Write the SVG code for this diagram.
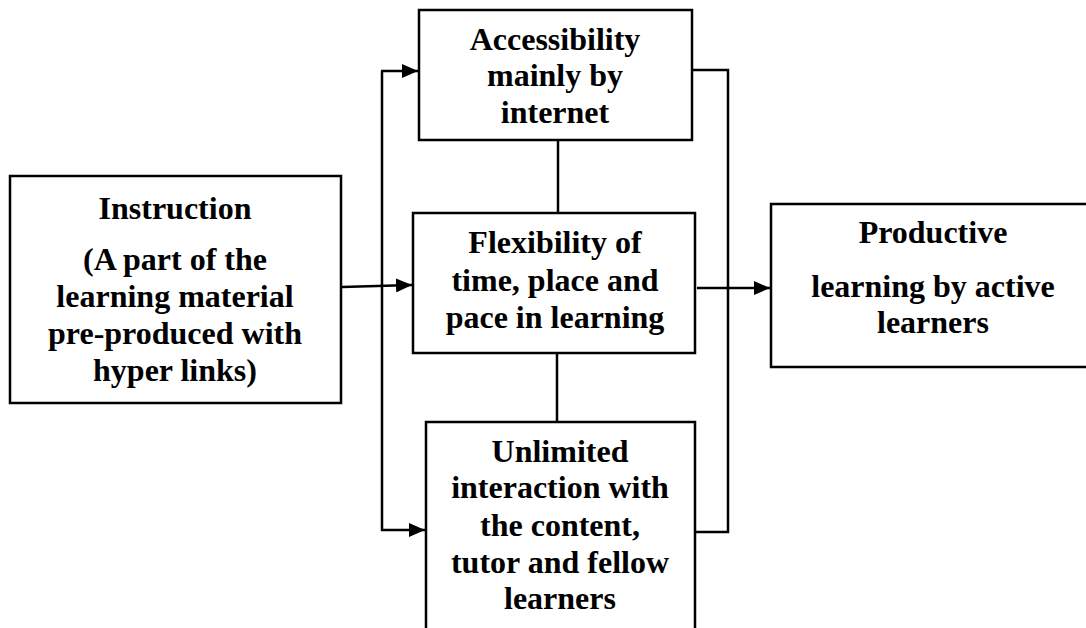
<svg xmlns="http://www.w3.org/2000/svg" width="1086" height="628" viewBox="0 0 1086 628">
  <style>
    .box { fill: #ffffff; stroke: #000000; stroke-width: 2.5; }
    .line { fill: none; stroke: #000000; stroke-width: 2.5; }
    .lbl { font-family: "Liberation Serif", "Times New Roman", serif; font-weight: bold; font-size: 32px; fill: #000000; text-anchor: middle; }
  </style>
  <defs>
    <marker id="arrow" viewBox="0 0 16 14" refX="16" refY="7" markerWidth="16" markerHeight="14" markerUnits="userSpaceOnUse" orient="auto">
      <path d="M0,0 L16,7 L0,14 Z" fill="#000000"/>
    </marker>
  </defs>
  <rect width="1086" height="628" fill="#ffffff"/>

  <g id="connectors">
    <!-- instruction to flexibility -->
    <line class="line" x1="342" y1="287" x2="412" y2="285" marker-end="url(#arrow)"/>
    <!-- left bus feeding top and bottom boxes -->
    <polyline class="line" points="382,71 382,530 425,530" marker-end="url(#arrow)"/>
    <line class="line" x1="381" y1="71" x2="418" y2="71" marker-end="url(#arrow)"/>
    <!-- centre links -->
    <line class="line" x1="558" y1="140" x2="558" y2="213"/>
    <line class="line" x1="557" y1="353" x2="557" y2="422"/>
    <!-- right bus -->
    <polyline class="line" points="692,70 728,70 728,532 695,532"/>
    <!-- flexibility to productive -->
    <line class="line" x1="697" y1="288" x2="770" y2="288" marker-end="url(#arrow)"/>
  </g>

  <g id="instruction">
    <rect class="box" x="10" y="176" width="331" height="227"/>
    <text class="lbl" x="175" y="219">Instruction</text>
    <text class="lbl" x="175" y="270">(A part of the</text>
    <text class="lbl" x="175" y="307">learning material</text>
    <text class="lbl" x="175" y="344">pre-produced with</text>
    <text class="lbl" x="175" y="381">hyper links)</text>
  </g>

  <g id="accessibility">
    <rect class="box" x="419" y="10" width="273" height="130"/>
    <text class="lbl" x="555" y="50">Accessibility</text>
    <text class="lbl" x="555" y="86">mainly by</text>
    <text class="lbl" x="555" y="123">internet</text>
  </g>

  <g id="flexibility">
    <rect class="box" x="413" y="213" width="282" height="140"/>
    <text class="lbl" x="555" y="253">Flexibility of</text>
    <text class="lbl" x="555" y="291">time, place and</text>
    <text class="lbl" x="555" y="328">pace in learning</text>
  </g>

  <g id="interaction">
    <rect class="box" x="426" y="422" width="269" height="230"/>
    <text class="lbl" x="560" y="462">Unlimited</text>
    <text class="lbl" x="560" y="498">interaction with</text>
    <text class="lbl" x="560" y="536">the content,</text>
    <text class="lbl" x="560" y="573">tutor and fellow</text>
    <text class="lbl" x="560" y="609">learners</text>
  </g>

  <g id="productive">
    <rect class="box" x="771" y="204" width="330" height="163"/>
    <text class="lbl" x="933" y="243">Productive</text>
    <text class="lbl" x="933" y="297">learning by active</text>
    <text class="lbl" x="933" y="333">learners</text>
  </g>
</svg>
